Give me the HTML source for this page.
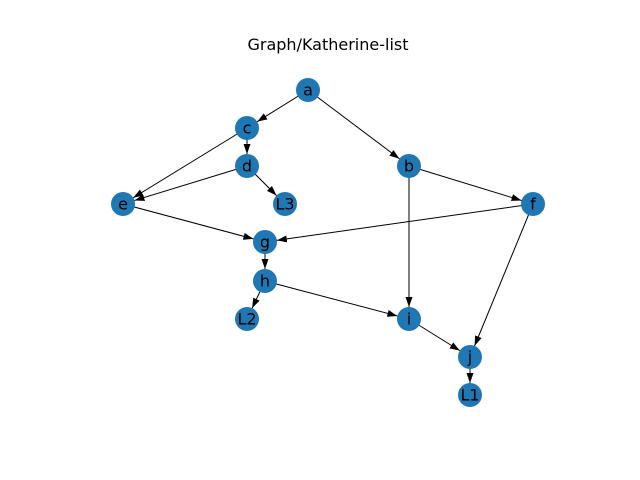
<!DOCTYPE html>
<html><head><meta charset="utf-8"><style>
html,body{margin:0;padding:0;background:#fff;}
svg{display:block;}
text{font-family:"DejaVu Sans","Liberation Sans",sans-serif;}
</style></head><body>
<svg width="640" height="480" viewBox="0 0 640 480" xmlns="http://www.w3.org/2000/svg">
<defs>
<marker id="ar" markerUnits="userSpaceOnUse" markerWidth="40" markerHeight="20" viewBox="0 -10 40 20" refX="22" refY="0" orient="auto">
<path d="M0,-3.5 L10,0 L0,3.5 Z" fill="#000"/>
</marker>
</defs>
<text x="328" y="50" font-size="16" text-anchor="middle">Graph/Katherine-list</text>
<g stroke="#000" stroke-width="1" marker-end="url(#ar)">
<line x1="308" y1="90" x2="247" y2="128"/>
<line x1="308" y1="90" x2="409" y2="166"/>
<line x1="247" y1="128" x2="247" y2="166"/>
<line x1="247" y1="128" x2="123" y2="204"/>
<line x1="247" y1="166" x2="123" y2="204"/>
<line x1="247" y1="166" x2="285" y2="204"/>
<line x1="409" y1="166" x2="533" y2="204"/>
<line x1="409" y1="166" x2="409" y2="319"/>
<line x1="123" y1="204" x2="265" y2="242"/>
<line x1="533" y1="204" x2="265" y2="242"/>
<line x1="533" y1="204" x2="470" y2="357"/>
<line x1="265" y1="242" x2="265" y2="281"/>
<line x1="265" y1="281" x2="247" y2="319"/>
<line x1="265" y1="281" x2="409" y2="319"/>
<line x1="409" y1="319" x2="470" y2="357"/>
<line x1="470" y1="357" x2="470" y2="395"/>
</g>
<g fill="#1f77b4">
<circle cx="308" cy="90" r="12"/>
<circle cx="247" cy="128" r="12"/>
<circle cx="247" cy="166" r="12"/>
<circle cx="409" cy="166" r="12"/>
<circle cx="123" cy="204" r="12"/>
<circle cx="285" cy="204" r="12"/>
<circle cx="533" cy="204" r="12"/>
<circle cx="265" cy="242" r="12"/>
<circle cx="265" cy="281" r="12"/>
<circle cx="247" cy="319" r="12"/>
<circle cx="409" cy="319" r="12"/>
<circle cx="470" cy="357" r="12"/>
<circle cx="470" cy="395" r="12"/>
</g>
<g font-size="16" text-anchor="middle" dominant-baseline="central" fill="#000">
<text x="308" y="90">a</text>
<text x="247" y="128">c</text>
<text x="247" y="166">d</text>
<text x="409" y="166">b</text>
<text x="123" y="204">e</text>
<text x="285" y="204">L3</text>
<text x="533" y="204">f</text>
<text x="265" y="242">g</text>
<text x="265" y="281">h</text>
<text x="247" y="319">L2</text>
<text x="409" y="319">i</text>
<text x="470" y="357">j</text>
<text x="470" y="395">L1</text>
</g>
</svg>
</body></html>
